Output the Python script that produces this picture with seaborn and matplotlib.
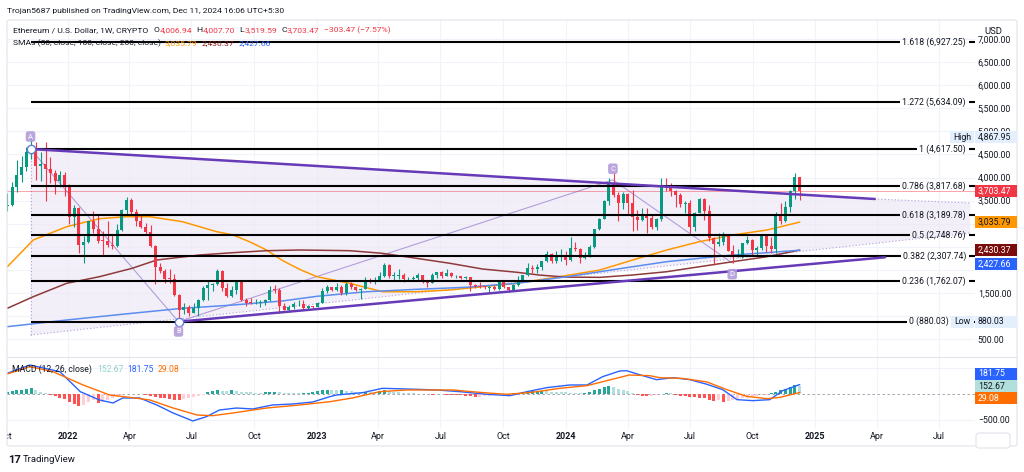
import numpy as np
import pandas as pd
import matplotlib
matplotlib.use('Agg')
import matplotlib.pyplot as plt
import matplotlib.dates as mdates
import matplotlib.transforms as mtransforms
from matplotlib.patches import Rectangle, FancyBboxPatch, Polygon
from matplotlib.lines import Line2D
from matplotlib.ticker import FuncFormatter
import seaborn as sns

sns.set_theme(style='white')
plt.rcParams['font.family'] = ['Roboto', 'DejaVu Sans']

# ---------------- DATOS ----------------
# Velas semanales ETH/USD (lunes de cada semana)
semanas = pd.date_range('2021-10-04', periods=167, freq='7D')

apertura = [3380, 3414, 3801, 4054, 4234, 4560, 4617, 4250, 4290, 4180, 4100, 3920, 4050,
            3800, 3153, 3340, 2540, 2600, 3060, 2880, 2630, 2620, 2550, 2520, 2860, 3300,
            3520, 3260, 3060, 2920, 2830, 2520, 2060, 1970, 1810, 1800, 1450, 1130, 1200,
            1070, 1170, 1340, 1600, 1680, 1700, 1980, 1620, 1430, 1570, 1760, 1340, 1290,
            1280, 1290, 1310, 1360, 1570, 1560, 1220, 1140, 1190, 1260, 1270, 1180, 1220,
            1200, 1290, 1550, 1630, 1570, 1630, 1510, 1690, 1640, 1560, 1590, 1790, 1750,
            1790, 1860, 2100, 1870, 1870, 1900, 1800, 1810, 1830, 1890, 1750, 1720, 1900,
            1950, 1870, 1930, 1860, 1860, 1830, 1840, 1670, 1650, 1630, 1620, 1640, 1580,
            1730, 1630, 1560, 1670, 1780, 1890, 2050, 2010, 2060, 2190, 2350, 2200, 2270,
            2290, 2220, 2470, 2450, 2260, 2290, 2500, 2880, 3110, 3490, 3870, 3620, 3440,
            3640, 3450, 3150, 3090, 3190, 3120, 2920, 3100, 3830, 3780, 3700, 3620, 3420,
            3440, 2930, 3240, 3530, 3270, 2690, 2560, 2610, 2750, 2420, 2270, 2300, 2580,
            2650, 2440, 2470, 2740, 2510, 2460, 3180, 3070, 3360, 3700, 4006.94]
maximo = [3670, 3900, 4375, 4460, 4667, 4867.95, 4770, 4550, 4780, 4450, 4170, 4140, 4130,
          3850, 3410, 3370, 2730, 3070, 3280, 3200, 2850, 3050, 2750, 3000, 3310, 3580,
          3555, 3310, 3190, 3020, 2970, 2530, 2160, 2020, 2020, 1920, 1470, 1280, 1250,
          1280, 1380, 1650, 1780, 1720, 2030, 2000, 1720, 1650, 1790, 1790, 1400, 1400,
          1380, 1340, 1370, 1660, 1680, 1600, 1290, 1240, 1300, 1350, 1350, 1240, 1230,
          1300, 1600, 1680, 1640, 1720, 1680, 1740, 1740, 1660, 1620, 1850, 1830, 1840,
          1950, 2140, 2120, 1960, 2010, 1930, 1850, 1870, 1930, 1900, 1760, 1930, 1960,
          1970, 2030, 1950, 1900, 1870, 1870, 1850, 1690, 1750, 1650, 1650, 1680, 1750,
          1750, 1640, 1700, 1860, 1900, 2140, 2100, 2130, 2200, 2400, 2360, 2400, 2450,
          2400, 2720, 2610, 2470, 2390, 2540, 2890, 3120, 3520, 3990, 4093, 3680, 3680,
          3660, 3730, 3290, 3350, 3350, 3220, 3130, 3980, 3980, 3890, 3720, 3660, 3500,
          3520, 3250, 3560, 3560, 3400, 2720, 2800, 2820, 2760, 2550, 2460, 2580, 2730,
          2680, 2520, 2760, 2770, 2720, 3250, 3450, 3500, 3740, 4090, 4007.70]
minimo = [3280, 3390, 3680, 3900, 4146, 4410, 3950, 3920, 3500, 3880, 3640, 3800, 3600,
          3000, 2930, 2360, 2160, 2580, 2800, 2580, 2300, 2500, 2450, 2500, 2850, 3180,
          3180, 2950, 2900, 2770, 2500, 1700, 1930, 1710, 1720, 1440, 880.03, 1040, 1000,
          1060, 1000, 1330, 1360, 1550, 1670, 1540, 1420, 1420, 1490, 1330, 1220, 1270,
          1260, 1190, 1250, 1330, 1500, 1070, 1130, 1080, 1160, 1220, 1150, 1150, 1180,
          1190, 1280, 1510, 1540, 1550, 1460, 1460, 1590, 1550, 1370, 1580, 1710, 1690,
          1780, 1850, 1820, 1780, 1800, 1740, 1760, 1780, 1780, 1710, 1630, 1720, 1820,
          1830, 1860, 1850, 1830, 1810, 1810, 1550, 1610, 1620, 1590, 1530, 1570, 1570,
          1620, 1520, 1540, 1660, 1770, 1870, 1930, 1930, 2000, 2180, 2140, 2160, 2200,
          2100, 2200, 2420, 2160, 2230, 2280, 2470, 2860, 3100, 3400, 3570, 3060, 3320,
          3210, 2850, 2870, 3060, 2810, 2880, 2860, 3060, 3700, 3600, 3360, 3360, 3240,
          2810, 2840, 3240, 3090, 2630, 2110, 2520, 2540, 2400, 2150, 2270, 2250, 2560,
          2310, 2320, 2440, 2390, 2360, 2360, 3000, 3030, 3260, 3540, 3519.59]
cierre = [3414, 3801, 4054, 4234, 4560, 4617, 4250, 4290, 4180, 4100, 3920, 4050, 3800,
          3153, 3340, 2540, 2600, 3060, 2880, 2630, 2620, 2550, 2520, 2860, 3300, 3520,
          3260, 3060, 2920, 2830, 2520, 2060, 1970, 1810, 1800, 1450, 1130, 1200, 1070,
          1170, 1340, 1600, 1680, 1700, 1980, 1620, 1430, 1570, 1760, 1340, 1290, 1280,
          1290, 1310, 1360, 1570, 1560, 1220, 1140, 1190, 1260, 1270, 1180, 1220, 1200,
          1290, 1550, 1630, 1570, 1630, 1510, 1690, 1640, 1560, 1590, 1790, 1750, 1790,
          1860, 2100, 1870, 1870, 1900, 1800, 1810, 1830, 1890, 1750, 1720, 1900, 1950,
          1870, 1930, 1860, 1860, 1830, 1840, 1670, 1650, 1630, 1620, 1640, 1580, 1730,
          1630, 1560, 1670, 1780, 1890, 2050, 2010, 2060, 2190, 2350, 2200, 2270, 2290,
          2220, 2470, 2450, 2260, 2290, 2500, 2880, 3110, 3490, 3870, 3620, 3440, 3640,
          3450, 3150, 3090, 3190, 3120, 2920, 3100, 3830, 3780, 3700, 3620, 3420, 3440,
          2930, 3240, 3530, 3270, 2690, 2560, 2610, 2750, 2420, 2270, 2300, 2580, 2650,
          2440, 2470, 2740, 2510, 2460, 3180, 3070, 3360, 3700, 4006.94, 3703.47]

# Medias moviles
sma50_fechas = ['2021-10-04', '2021-11-11', '2021-12-30', '2022-02-16', '2022-03-28', '2022-05-01',
                '2022-06-18', '2022-08-07', '2022-08-31', '2022-09-24', '2022-10-19', '2022-11-12',
                '2022-12-07', '2023-01-01', '2023-02-18', '2023-04-07', '2023-05-27', '2023-07-15',
                '2023-09-01', '2023-10-21', '2023-12-08', '2024-02-20', '2024-04-08', '2024-05-28',
                '2024-07-15', '2024-09-02', '2024-10-22', '2024-12-09']
sma50 = [2070, 2648, 2936, 3110, 3153, 3153, 3044, 2828, 2757, 2612, 2432, 2200, 2010, 1854,
         1711, 1529, 1529, 1566, 1638, 1711, 1819, 1999, 2215, 2432, 2612, 2757, 2865, 3035.79]

sma100_fechas = ['2021-10-04', '2021-11-11', '2021-12-30', '2022-02-16', '2022-04-05', '2022-05-11',
                 '2022-07-13', '2022-08-31', '2022-10-19', '2022-12-07', '2023-02-18', '2023-04-07',
                 '2023-05-27', '2023-07-15', '2023-09-01', '2023-10-21', '2023-11-23', '2024-01-01',
                 '2024-02-20', '2024-04-08', '2024-05-28', '2024-07-15', '2024-09-02', '2024-10-22',
                 '2024-12-09']
sma100 = [1170, 1421, 1711, 1854, 2036, 2215, 2324, 2374, 2417, 2432, 2417, 2360, 2252, 2144,
          2020, 1950, 1890, 1845, 1840, 1891, 1962, 2070, 2179, 2287, 2430.37]

sma200_fechas = ['2021-10-04', '2021-12-30', '2022-04-05', '2022-06-18', '2022-08-31', '2022-11-12',
                 '2023-01-01', '2023-03-15', '2023-05-27', '2023-08-09', '2023-10-21', '2024-01-01',
                 '2024-02-20', '2024-04-08', '2024-05-28', '2024-07-15', '2024-09-02', '2024-10-22',
                 '2024-12-09']
sma200 = [772, 917, 1062, 1170, 1241, 1330, 1430, 1529, 1581, 1625, 1711, 1850, 1962, 2070,
          2179, 2252, 2324, 2374, 2427.66]

# MACD (12, 26): linea, senal e histograma semanal
macd_fechas = ['2021-10-04', '2021-11-06', '2021-12-20', '2022-01-19', '2022-02-16', '2022-03-08',
               '2022-03-22', '2022-04-16', '2022-05-11', '2022-06-04', '2022-07-03', '2022-07-23',
               '2022-08-11', '2022-09-05', '2022-09-29', '2022-10-28', '2022-11-27', '2022-12-26',
               '2023-01-20', '2023-01-30', '2023-03-09', '2023-04-07', '2023-05-13', '2023-06-26',
               '2023-07-30', '2023-09-07', '2023-10-11', '2023-11-05', '2023-12-04', '2024-01-07',
               '2024-02-01', '2024-02-24', '2024-03-20', '2024-03-30', '2024-04-18', '2024-05-13',
               '2024-06-06', '2024-07-01', '2024-07-26', '2024-08-18', '2024-09-08', '2024-10-01',
               '2024-10-26', '2024-11-14', '2024-12-09']
macd_linea = [398, 557, 429, 44, -115, -173, -77, -77, -211, -365, -519, -436, -308, -270, -288,
              -211, -192, -154, -51, -19, 25, 109, 96, 77, 44, -6, -32, 44, 122, 173, 173, 333,
              442, 448, 371, 275, 313, 275, 186, 83, -109, -128, -109, 64, 181.75]

senal_fechas = ['2021-10-04', '2021-11-06', '2021-12-10', '2022-01-23', '2022-03-03', '2022-04-05',
                '2022-05-01', '2022-06-04', '2022-07-09', '2022-08-01', '2022-08-31', '2022-10-19',
                '2022-12-07', '2023-01-20', '2023-02-22', '2023-04-03', '2023-05-13', '2023-07-19',
                '2023-08-27', '2023-10-06', '2023-11-13', '2023-12-23', '2024-02-01', '2024-03-05',
                '2024-04-03', '2024-05-03', '2024-05-18', '2024-06-20', '2024-07-26', '2024-08-24',
                '2024-09-22', '2024-10-22', '2024-11-10', '2024-12-09']
senal = [385, 525, 429, 173, -19, -71, -115, -269, -404, -417, -365, -270, -211, -148, -77, 44,
         77, 77, 32, -6, 32, 109, 160, 269, 365, 352, 313, 300, 231, 83, -45, -90, -65, 29.08]

macd_hist = [30, 50, 70, 85, 105, 115, 75, 45, 15,
             -20, -45, -70, -95, -160, -200, -235, -210, -150, -120, -180, -150, -110, -80, -50,
             -25, -5, 5, 5, 0,
             -15, -30, -50, -70, -85, -95, -110, -115, -100, -80, -60, -40, -20,
             30, 55, 70, 65, 55, 75, 60, 45, 35, 30, 25, 20, 30, 40, 45, 35, 25, 20, 15, 10, 15, 25, 40,
             60, 75, 80, 75, 70, 75, 65, 55, 45, 40, 45, 35, 30, 55, 70, 55, 45, 35, 25, 20, 12, 8,
             -5, -8, -10, -5, -8, -12, -18, -22, -28, -35, -45, -55, -50, -40,
             -30, -20, -10, -5, 5, 10, 20,
             30, 40, 50, 55, 60, 50, 45, 40, 35, 30, 28, 22, 15,
             25, 45, 70, 100, 130, 150, 130, 105, 80, 55, 25, -15,
             -30, -40, -35, -25, -5, 15, 10, -20, -35, -45, -55, -60, -70, -80,
             -110, -135, -125, -145, -130, -115, -100, -85, -70, -55, -40, -25, -10,
             15, 40, 70, 100, 135, 175, 152.67]

# Niveles de Fibonacci
fib_ratios = ['1.618', '1.272', '1', '0.786', '0.618', '0.5', '0.382', '0.236', '0']
fib_valores = [6927.25, 5634.09, 4617.50, 3817.68, 3189.78, 2748.76, 2307.74, 1762.07, 880.03]

# Puntos del patron (A, B, C, D) y lineas de tendencia
patron_letras = ['A', 'B', 'C', 'D']
patron_fechas = ['2021-11-07', '2022-06-12', '2024-03-10', '2024-09-01']
patron_precios = [4617.50, 880.03, 3950, 2150]
tend_sup_fechas = ['2021-11-07', '2025-03-29', '2025-08-16']
tend_sup_precios = [4617.50, 3536, 3449]
tend_inf_fechas = ['2022-06-12', '2025-04-13']
tend_inf_precios = [880.03, 2274]
cuna_inf_fechas = ['2021-11-07', '2025-08-16']
cuna_inf_precios = [592, 2800]

ticks_x = ['2022-01-01', '2022-04-01', '2022-07-01', '2022-10-01', '2023-01-01', '2023-04-01',
           '2023-07-01', '2023-10-01', '2024-01-01', '2024-04-01', '2024-07-01', '2024-10-01',
           '2025-01-01', '2025-04-01', '2025-07-01']
etiquetas_x = ['2022', 'Apr', 'Jul', 'Oct', '2023', 'Apr', 'Jul', 'Oct', '2024', 'Apr', 'Jul', 'Oct',
               '2025', 'Apr', 'Jul']

# ---------------- FIGURA ----------------
W, H = 1024, 472
OSC = '#131722'
VERDE = '#089981'
ROJO = '#f23645'
LILA = '#b39ddb'
MORADO = '#673ab7'

fig = plt.figure(figsize=(W / 100, H / 100), dpi=100)
fig.patch.set_facecolor('white')


def caja(x0, y0, x1, y1):
    # pixeles (origen arriba a la izquierda) -> fracciones de figura
    return [x0 / W, 1 - y1 / H, (x1 - x0) / W, (y1 - y0) / H]


ax = fig.add_axes(caja(7, 20, 975, 357))
ax2 = fig.add_axes(caja(7, 357, 975, 428), sharex=ax)

fn = lambda lista: mdates.date2num(pd.to_datetime(lista))
xs = mdates.date2num(semanas)
o, h, l, c = map(np.array, (apertura, maximo, minimo, cierre))

# velas
col = np.where(c >= o, VERDE, ROJO)
ax.vlines(xs, l, h, colors=col, linewidth=0.8, zorder=5)
cuerpo = np.where(np.abs(c - o) < 12, 12, c - o)
ax.bar(xs, cuerpo, bottom=o, width=4.4, color=col, linewidth=0, zorder=6)

# medias moviles
sns.lineplot(x=fn(sma50_fechas), y=sma50, ax=ax, color='#ff9800', linewidth=1.1, zorder=4)
sns.lineplot(x=fn(sma100_fechas), y=sma100, ax=ax, color='#8e3a3a', linewidth=1.1, zorder=4)
sns.lineplot(x=fn(sma200_fechas), y=sma200, ax=ax, color='#5b8def', linewidth=1.1, zorder=4)

# cuña sombreada
xs_sup, xs_inf = fn(tend_sup_fechas), fn(cuna_inf_fechas)
poly = Polygon([(xs_sup[0], tend_sup_precios[0]), (xs_sup[1], tend_sup_precios[1]),
                (xs_sup[2], tend_sup_precios[2]), (xs_inf[1], cuna_inf_precios[1]),
                (xs_inf[0], cuna_inf_precios[0])], closed=True, facecolor='#ede7f6',
               edgecolor='none', alpha=0.65, zorder=1)
ax.add_patch(poly)
ax.plot(xs_inf, cuna_inf_precios, color=LILA, lw=0.8, ls=(0, (1, 2)), zorder=2)
ax.plot(xs_sup[1:], tend_sup_precios[1:], color=LILA, lw=0.8, ls=(0, (1, 2)), zorder=2)
ax.plot([xs_inf[0], xs_inf[0]], [cuna_inf_precios[0], tend_sup_precios[0]], color=LILA, lw=0.8,
        ls=(0, (1, 2)), zorder=2)

# lineas de tendencia
ax.plot(xs_sup[:2], tend_sup_precios[:2], color=MORADO, lw=1.8, zorder=7)
ax.plot(fn(tend_inf_fechas), tend_inf_precios, color=MORADO, lw=1.8, zorder=7)
px_pat = fn(patron_fechas)
ax.plot(px_pat, patron_precios, color=LILA, lw=0.8, zorder=3)

# linea de precio actual
ax.axhline(cierre[-1], color=ROJO, lw=0.7, alpha=0.45, zorder=3)

# ejes
ax.set_xlim(mdates.date2num(pd.Timestamp('2021-10-03 12:00')), mdates.date2num(pd.Timestamp('2025-08-23')))
ax.set_ylim(116, 7410)
ax.set_yticks(np.arange(500, 7001, 500))
ax.yaxis.tick_right()
ax.yaxis.set_major_formatter(FuncFormatter(lambda v, p: f'{v:,.2f}'))
ax.tick_params(axis='y', length=0, pad=2, labelsize=6.3, labelcolor=OSC)
ax.tick_params(axis='x', length=0, labelbottom=False)
ax.set_xlabel('')
ax.set_ylabel('')
ax.grid(True, color='#f0f3fa', linewidth=0.8)
for s in ax.spines.values():
    s.set_visible(False)

# fibonacci: etiquetas y lineas cortadas en la etiqueta
# (la del nivel 0 termina antes de la marca "Low")
fib_x = [0.9907] * 8 + [(949 - 7) / 968]
textos = []
for r, v, xe in zip(fib_ratios, fib_valores, fib_x):
    t = ax.text(xe, v, f'{r} ({v:,.2f})', transform=ax.get_yaxis_transform(), ha='right',
                va='center', fontsize=6.3, color=OSC, zorder=8)
    textos.append(t)
fig.canvas.draw()
inv = ax.transData.inverted()
x_der = ax.get_xlim()[1]
for t, v in zip(textos, fib_valores):
    bb = t.get_window_extent()
    x_ini = inv.transform((bb.x0 - 2, 0))[0]
    x_fin = inv.transform((bb.x1 + 3, 0))[0]
    ax.hlines(v, px_pat[0], x_ini, color='black', lw=1.5, zorder=6)
    ax.hlines(v, x_fin, x_der, color='black', lw=1.5, zorder=6)

# puntos A, B y letras del patron
ax.plot(px_pat[:2], patron_precios[:2], 'o', ms=6, mfc='white', mec='#5b7fdb', mew=1, zorder=9)
desp = [9, -7, 8, -8]
for letra, x, y, d in zip(patron_letras, px_pat, patron_precios, desp):
    ax.annotate(letra, (x, y), xytext=(0, d), textcoords='offset points', ha='center', va='center',
                fontsize=5.5, color='white', zorder=10,
                bbox=dict(boxstyle='round,pad=0.3', fc=LILA, ec='none', alpha=0.9))

# panel MACD
hist = np.array(macd_hist)
prev = np.r_[hist[0], hist[:-1]]
hcol = np.where(hist >= 0, np.where(hist >= prev, '#26a69a', '#b2dfdb'),
                np.where(hist < prev, '#ff5252', '#ffcdd2'))
ax2.bar(xs, hist, width=4.4, color=hcol, linewidth=0, zorder=3)
sns.lineplot(x=fn(macd_fechas), y=macd_linea, ax=ax2, color='#2962ff', linewidth=1, zorder=4)
sns.lineplot(x=fn(senal_fechas), y=senal, ax=ax2, color='#ff6d00', linewidth=1, zorder=4)
ax2.axhline(0, color='#9598a1', lw=0.6, ls=(0, (3, 3)), zorder=2)
ax2.set_ylim(-654, 711)
ax2.set_yticks([-500, 500])
ax2.yaxis.tick_right()
ax2.yaxis.set_major_formatter(FuncFormatter(lambda v, p: f'{v:,.2f}'.replace('-', '−')))
ax2.tick_params(axis='y', length=0, pad=2, labelsize=6.3, labelcolor=OSC)
ax2.set_xticks(fn(ticks_x))
ax2.set_xticklabels(etiquetas_x)
ax2.tick_params(axis='x', length=0, pad=3, labelsize=6.5, labelcolor=OSC)
for lbl in ax2.get_xticklabels():
    if lbl.get_text().isdigit():
        lbl.set_fontweight('bold')
ax2.set_xlim(ax.get_xlim())
ax2.set_xlabel('')
ax2.set_ylabel('')
ax2.grid(True, color='#f0f3fa', linewidth=0.8)
for s in ax2.spines.values():
    s.set_visible(False)
t_oct = ax2.text(mdates.date2num(pd.Timestamp('2021-10-01')), -0.125, 'Oct', transform=ax2.get_xaxis_transform(),
                 ha='center', va='center', fontsize=6.5, color=OSC, clip_on=True)
t_oct.set_clip_path(Rectangle((7 / W, 0), 1, 1, transform=fig.transFigure))

# marco y separador
fig.add_artist(Line2D([7 / W, 1017 / W], [1 - 357 / H] * 2, color='#e0e3eb', lw=0.8))
fig.add_artist(FancyBboxPatch((7 / W, 1 - 446 / H), 1010 / W, 426 / H,
                              boxstyle='round,pad=0,rounding_size=0.004', transform=fig.transFigure,
                              fill=False, ec='#e0e3eb', lw=0.8))

# etiquetas de color en el eje de precios
ident = mtransforms.IdentityTransform()
ocupado = {ax: [], ax2: []}


def etiqueta_eje(axis, valor, texto, fondo, color_txt, dy=0, x0=975, ancho=42):
    y = axis.transData.transform((0, valor))[1] - dy
    fig.add_artist(Rectangle((x0, y - 6), ancho, 12, transform=ident, facecolor=fondo,
                             edgecolor='none', zorder=10))
    fig.text((x0 + 3) / W, y / H, texto, color=color_txt, fontsize=6.3, va='center', ha='left', zorder=11)
    if x0 >= 975:
        ocupado[axis].append(y)


etiqueta_eje(ax, max(maximo), 'High', '#e3effd', OSC, x0=950, ancho=24)
etiqueta_eje(ax, max(maximo), f'{max(maximo):,.2f}', '#e3effd', OSC)
etiqueta_eje(ax, cierre[-1], f'{cierre[-1]:,.2f}', ROJO, 'white')
etiqueta_eje(ax, sma50[-1], f'{sma50[-1]:,.2f}', '#ff9800', OSC)
etiqueta_eje(ax, sma100[-1], f'{sma100[-1]:,.2f}', '#7b0c0c', 'white')
etiqueta_eje(ax, sma200[-1], f'{sma200[-1]:,.2f}', '#2962ff', 'white', dy=14)
etiqueta_eje(ax, min(minimo), 'Low', '#e3effd', OSC, x0=951, ancho=23)
etiqueta_eje(ax, min(minimo), f'{min(minimo):,.2f}', '#e3effd', OSC)
etiqueta_eje(ax2, macd_linea[-1], f'{macd_linea[-1]:,.2f}', '#2962ff', 'white', dy=-11)
etiqueta_eje(ax2, macd_hist[-1], f'{macd_hist[-1]:,.2f}', '#b2dfdb', OSC)
etiqueta_eje(ax2, senal[-1], f'{senal[-1]:,.2f}', '#ff6d00', 'white', dy=6)

# las marcas del eje tapadas por una etiqueta de color no se ven
for axis in (ax, ax2):
    for v, lbl in zip(axis.get_yticks(), axis.get_yticklabels()):
        y = axis.transData.transform((0, v))[1]
        if any(abs(y - yo) < 5.95 for yo in ocupado[axis]):
            lbl.set_visible(False)

# caja USD
fig.add_artist(FancyBboxPatch((976, 24), 34, 15, boxstyle='round,pad=0,rounding_size=3', transform=ident,
                              facecolor='white', edgecolor='#e0e3eb', lw=0.8, zorder=12))
fig.text(993 / W, 1 - 31.5 / H, 'USD', fontsize=6.8, color=OSC, ha='center', va='center', zorder=13)

# textos de cabecera y leyendas


def texto_multi(x_px, y_px, piezas, size=6.1):
    rend = fig.canvas.get_renderer()
    x = x_px
    for s, colr, gap in piezas:
        t = fig.text(x / W, 1 - y_px / H, s, color=colr, fontsize=size, va='center', ha='left', zorder=13)
        x += t.get_window_extent(rend).width + gap


fig.text(7 / W, 1 - 11 / H, 'Trojan5687 published on TradingView.com, Dec 11, 2024 16:06 UTC+5:30',
         fontsize=6.1, color=OSC, va='center', ha='left')
cambio = cierre[-1] - apertura[-1]
texto_multi(13, 30, [('Ethereum / U.S. Dollar, 1W, CRYPTO', OSC, 5),
                     ('O', OSC, 0.5), (f'{apertura[-1]:,.2f}', ROJO, 4),
                     ('H', OSC, 0.5), (f'{maximo[-1]:,.2f}', ROJO, 4),
                     ('L', OSC, 0.5), (f'{minimo[-1]:,.2f}', ROJO, 4),
                     ('C', OSC, 0.5), (f'{cierre[-1]:,.2f}', ROJO, 4),
                     (f'{cambio:,.2f} ({cambio / apertura[-1] * 100:.2f}%)'.replace('-', '−'), ROJO, 0)])
texto_multi(13, 43, [('SMAs (50, close, 100, close, 200, close)', OSC, 4),
                     (f'{sma50[-1]:,.2f}', '#ff9800', 4), (f'{sma100[-1]:,.2f}', '#8b1a1a', 4),
                     (f'{sma200[-1]:,.2f}', '#2962ff', 0)])
texto_multi(12, 369, [('MACD (12, 26, close)', OSC, 5), (f'{macd_hist[-1]:,.2f}', '#93d2cb', 4),
                      (f'{macd_linea[-1]:,.2f}', '#2962ff', 4), (f'{senal[-1]:,.2f}', '#ff6d00', 0)],
            size=6.2)

# marca TradingView
fig.text(8 / W, 1 - 460 / H, '17', fontsize=8, fontweight='bold', color=OSC, va='center', ha='left')
fig.text(23 / W, 1 - 460 / H, 'TradingView', fontsize=6.8, color=OSC, va='center', ha='left')

fig.savefig('out.png', dpi=100, facecolor='white')
